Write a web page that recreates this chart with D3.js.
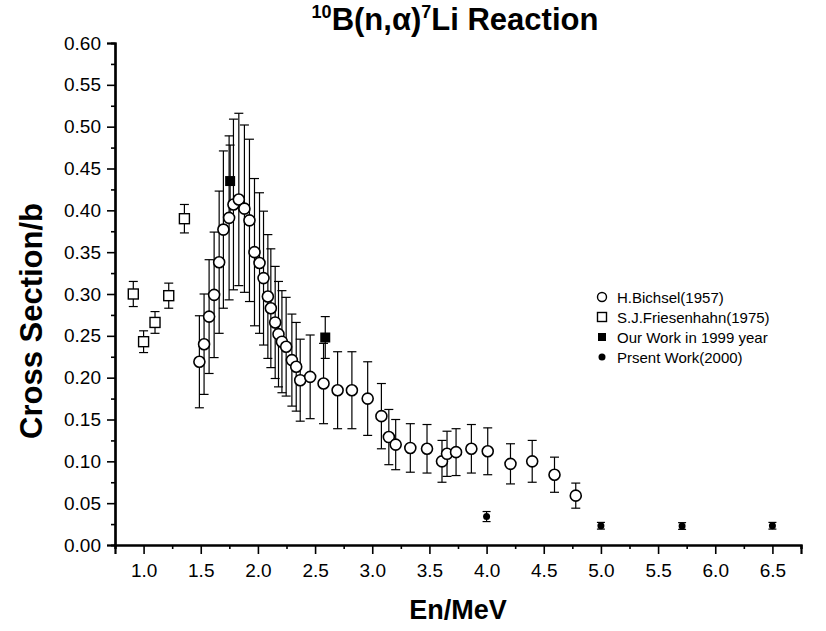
<!DOCTYPE html>
<html>
<head>
<meta charset="utf-8">
<script src="https://cdn.jsdelivr.net/npm/d3@7"></script>
<style>
  body { margin: 0; background: #fff; }
  text { font-family: "Liberation Sans", Arial, sans-serif; fill: #000; }
</style>
</head>
<body>
<div id="chart"></div>
<script>
// 10B(n,alpha)7Li cross section vs neutron energy

// H.Bichsel(1957)
const bichselE = [1.488, 1.529, 1.573, 1.617, 1.661, 1.698, 1.748, 1.786, 1.833, 1.882,
  1.926, 1.970, 2.014, 2.049, 2.087, 2.113, 2.151, 2.180, 2.210, 2.247,
  2.297, 2.335, 2.370, 2.457, 2.574, 2.697, 2.822, 2.960, 3.080, 3.145,
  3.205, 3.333, 3.479, 3.610, 3.654, 3.733, 3.867, 4.010, 4.209, 4.399,
  4.594, 4.780];
const bichselXS = [0.219, 0.240, 0.273, 0.299, 0.338, 0.377, 0.391, 0.407, 0.413, 0.402,
  0.388, 0.350, 0.337, 0.319, 0.297, 0.283, 0.266, 0.252, 0.243, 0.237,
  0.221, 0.213, 0.197, 0.201, 0.193, 0.185, 0.185, 0.175, 0.154, 0.129,
  0.120, 0.116, 0.115, 0.100, 0.109, 0.111, 0.115, 0.112, 0.097, 0.100,
  0.084, 0.059];
const bichselErr = [0.055, 0.060, 0.068, 0.075, 0.085, 0.094, 0.098, 0.102, 0.103, 0.100,
  0.097, 0.088, 0.084, 0.080, 0.074, 0.071, 0.067, 0.063, 0.061, 0.059,
  0.055, 0.053, 0.049, 0.050, 0.048, 0.046, 0.046, 0.044, 0.039, 0.033,
  0.030, 0.029, 0.029, 0.025, 0.027, 0.028, 0.029, 0.028, 0.024, 0.025,
  0.021, 0.015];

// S.J.Friesenhahn(1975)
const friesE = [0.91, 1.00, 1.10, 1.22, 1.357];
const friesXS = [0.300, 0.243, 0.266, 0.298, 0.390];
const friesErr = [0.015, 0.013, 0.013, 0.015, 0.017];

// Our Work in 1999 year
const work1999E = [1.757, 2.589];
const work1999XS = [0.435, 0.248];
const work1999Err = [0.043, 0.025];

// Prsent Work(2000)
const work2000E = [4.0, 5.0, 5.71, 6.5];
const work2000XS = [0.034, 0.023, 0.0227, 0.023];
const work2000Err = [0.006, 0.004, 0.004, 0.004];

const xMajor = [1.0, 1.5, 2.0, 2.5, 3.0, 3.5, 4.0, 4.5, 5.0, 5.5, 6.0, 6.5];
const xMinor = [0.75, 1.25, 1.75, 2.25, 2.75, 3.25, 3.75, 4.25, 4.75, 5.25, 5.75, 6.25, 6.75];
const yMajor = [0, 0.05, 0.10, 0.15, 0.20, 0.25, 0.30, 0.35, 0.40, 0.45, 0.50, 0.55, 0.60];
const yMinor = [0.025, 0.075, 0.125, 0.175, 0.225, 0.275, 0.325, 0.375, 0.425, 0.475, 0.525, 0.575];

const legendLabels = ["H.Bichsel(1957)", "S.J.Friesenhahn(1975)", "Our Work in 1999 year", "Prsent Work(2000)"];

const width = 826, height = 631;

const svg = d3.select("#chart").append("svg")
  .attr("width", width)
  .attr("height", height);

const x = d3.scaleLinear().domain([0.75, 6.75]).range([115, 801]);
const y = d3.scaleLinear().domain([0, 0.6]).range([545, 43]);

function series(E, XS, Err) {
  return E.map((e, i) => ({ e: e, v: XS[i], err: Err[i] }));
}
const bichsel = series(bichselE, bichselXS, bichselErr);
const fries = series(friesE, friesXS, friesErr);
const w1999 = series(work1999E, work1999XS, work1999Err);
const w2000 = series(work2000E, work2000XS, work2000Err);

// axes
const xAxisMinor = svg.append("g")
  .attr("transform", `translate(0,${y(0)})`)
  .call(d3.axisBottom(x).tickValues(xMinor).tickSize(4).tickFormat(""));
const xAxis = svg.append("g")
  .attr("transform", `translate(0,${y(0)})`)
  .call(d3.axisBottom(x).tickValues(xMajor).tickSize(9).tickPadding(10).tickFormat(d3.format(".1f")));
const yAxisMinor = svg.append("g")
  .attr("transform", `translate(${x(0.75)},0)`)
  .call(d3.axisLeft(y).tickValues(yMinor).tickSize(4).tickFormat(""));
const yAxis = svg.append("g")
  .attr("transform", `translate(${x(0.75)},0)`)
  .call(d3.axisLeft(y).tickValues(yMajor).tickSize(8).tickPadding(6).tickFormat(d3.format(".2f")));

[xAxisMinor, xAxis, yAxisMinor, yAxis].forEach(a => {
  a.select(".domain").attr("stroke-width", 2.2).attr("stroke", "#000");
  a.selectAll(".tick line").attr("stroke-width", 1.6).attr("stroke", "#000");
});
[xAxis, yAxis].forEach(a => {
  a.selectAll(".tick text")
    .style("font-family", "'Liberation Sans', Arial, sans-serif")
    .style("font-size", "19px")
    .attr("fill", "#000");
});

// error bars
function errorBars(data, cap) {
  const g = svg.append("g").attr("stroke", "#000").attr("stroke-width", 1.2);
  g.selectAll("line.v").data(data).join("line")
    .attr("x1", d => x(d.e)).attr("x2", d => x(d.e))
    .attr("y1", d => y(d.v + d.err)).attr("y2", d => y(d.v - d.err));
  g.selectAll("line.t").data(data).join("line")
    .attr("x1", d => x(d.e) - cap).attr("x2", d => x(d.e) + cap)
    .attr("y1", d => y(d.v + d.err)).attr("y2", d => y(d.v + d.err));
  g.selectAll("line.b").data(data).join("line")
    .attr("x1", d => x(d.e) - cap).attr("x2", d => x(d.e) + cap)
    .attr("y1", d => y(d.v - d.err)).attr("y2", d => y(d.v - d.err));
}
errorBars(bichsel, 4.5);
errorBars(fries, 4.5);
errorBars(w1999, 4.5);
errorBars(w2000, 4);

// markers
svg.append("g").selectAll("rect").data(fries).join("rect")
  .attr("x", d => x(d.e) - 5).attr("y", d => y(d.v) - 5)
  .attr("width", 10).attr("height", 10)
  .attr("fill", "#fff").attr("stroke", "#000").attr("stroke-width", 1.4);

svg.append("g").selectAll("circle").data(bichsel).join("circle")
  .attr("cx", d => x(d.e)).attr("cy", d => y(d.v)).attr("r", 5.5)
  .attr("fill", "#fff").attr("stroke", "#000").attr("stroke-width", 1.6);

svg.append("g").selectAll("rect").data(w1999).join("rect")
  .attr("x", d => x(d.e) - 5).attr("y", d => y(d.v) - 5)
  .attr("width", 10).attr("height", 10)
  .attr("fill", "#000");

svg.append("g").selectAll("circle").data(w2000).join("circle")
  .attr("cx", d => x(d.e)).attr("cy", d => y(d.v)).attr("r", 3.5)
  .attr("fill", "#000");

// legend
const legend = svg.append("g").attr("transform", "translate(602,297)");
legendLabels.forEach((label, i) => {
  const row = legend.append("g").attr("transform", `translate(0,${i * 20})`);
  if (i === 0) row.append("circle").attr("r", 4.5).attr("fill", "#fff").attr("stroke", "#000").attr("stroke-width", 1.4);
  if (i === 1) row.append("rect").attr("x", -4.5).attr("y", -4.5).attr("width", 9).attr("height", 9).attr("fill", "#fff").attr("stroke", "#000").attr("stroke-width", 1.4);
  if (i === 2) row.append("rect").attr("x", -4).attr("y", -4).attr("width", 8).attr("height", 8).attr("fill", "#000");
  if (i === 3) row.append("circle").attr("r", 3.5).attr("fill", "#000");
  row.append("text").attr("x", 15).attr("y", 5.5)
    .style("font-size", "15px")
    .text(label);
});

// title
const title = svg.append("text")
  .attr("x", 455).attr("y", 30)
  .attr("text-anchor", "middle")
  .style("font-weight", "bold")
  .style("font-size", "31px");
title.append("tspan").style("font-size", "18px").attr("dy", -12).text("10");
title.append("tspan").attr("dy", 12).text("B(n,α)");
title.append("tspan").style("font-size", "18px").attr("dy", -12).text("7");
title.append("tspan").attr("dy", 12).text("Li Reaction");

// axis titles
svg.append("text")
  .attr("x", 458).attr("y", 619)
  .attr("text-anchor", "middle")
  .style("font-weight", "bold")
  .style("font-size", "27px")
  .text("En/MeV");

svg.append("text")
  .attr("transform", "translate(42,321) rotate(-90)")
  .attr("text-anchor", "middle")
  .style("font-weight", "bold")
  .style("font-size", "31px")
  .text("Cross Section/b");
</script>
</body>
</html>
